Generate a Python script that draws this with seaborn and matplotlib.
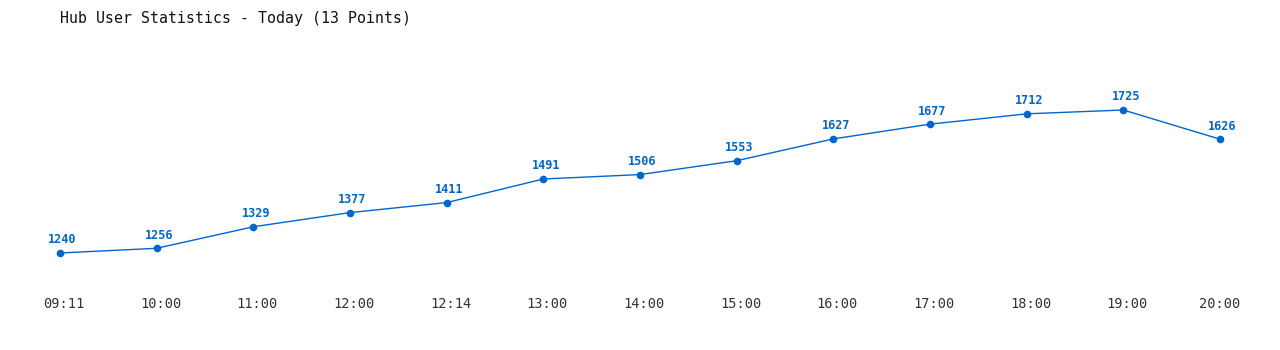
import matplotlib
matplotlib.use("Agg")
import matplotlib.pyplot as plt
import matplotlib.transforms as mtransforms
import seaborn as sns
import pandas as pd

times = ["09:11", "10:00", "11:00", "12:00", "12:14", "13:00", "14:00",
         "15:00", "16:00", "17:00", "18:00", "19:00", "20:00"]
users = [1240, 1256, 1329, 1377, 1411, 1491, 1506, 1553, 1627, 1677, 1712, 1725, 1626]
title = "Hub User Statistics - Today (13 Points)"

sns.set_style("white")
plt.rcParams['font.family'] = ['DejaVu Sans Mono', 'DejaVu Sans']

df = pd.DataFrame({"idx": range(len(times)), "users": users})
color = "#0066cc"

fig = plt.figure(figsize=(12.8, 3.5), dpi=100)
ax = fig.add_axes([0, 60/350, 1, 240/350])
sns.lineplot(data=df, x="idx", y="users", ax=ax, color=color, linewidth=1,
             marker="o", markersize=5.5, markeredgewidth=0, markerfacecolor=color)

for i, v in enumerate(users):
    ax.annotate(str(v), (i, v), xytext=(1.8, 9.4), textcoords="offset points",
                ha="center", va="center", fontsize=8.5, fontweight="bold", color=color)

ax.set_xlim(-60/96.667, 1220/96.667)
ax.set_ylim(1114.5, 1928.5)
ax.set_xticks(range(len(times)))
ax.set_xticklabels(times, fontsize=9.8, color="#333333")
ax.tick_params(axis="x", length=0, pad=5)
ax.set_yticks([])
ax.set_xlabel("")
ax.set_ylabel("")
for s in ax.spines.values():
    s.set_visible(False)

shift = mtransforms.ScaledTranslation(4/100, 0, fig.dpi_scale_trans)
for lbl in ax.get_xticklabels()[:-1]:
    lbl.set_transform(lbl.get_transform() + shift)

fig.text(60/1280, 1 - 18/350, title, ha="left", va="center", fontsize=10.7, color="#111111")

fig.savefig("out.png", dpi=100)
